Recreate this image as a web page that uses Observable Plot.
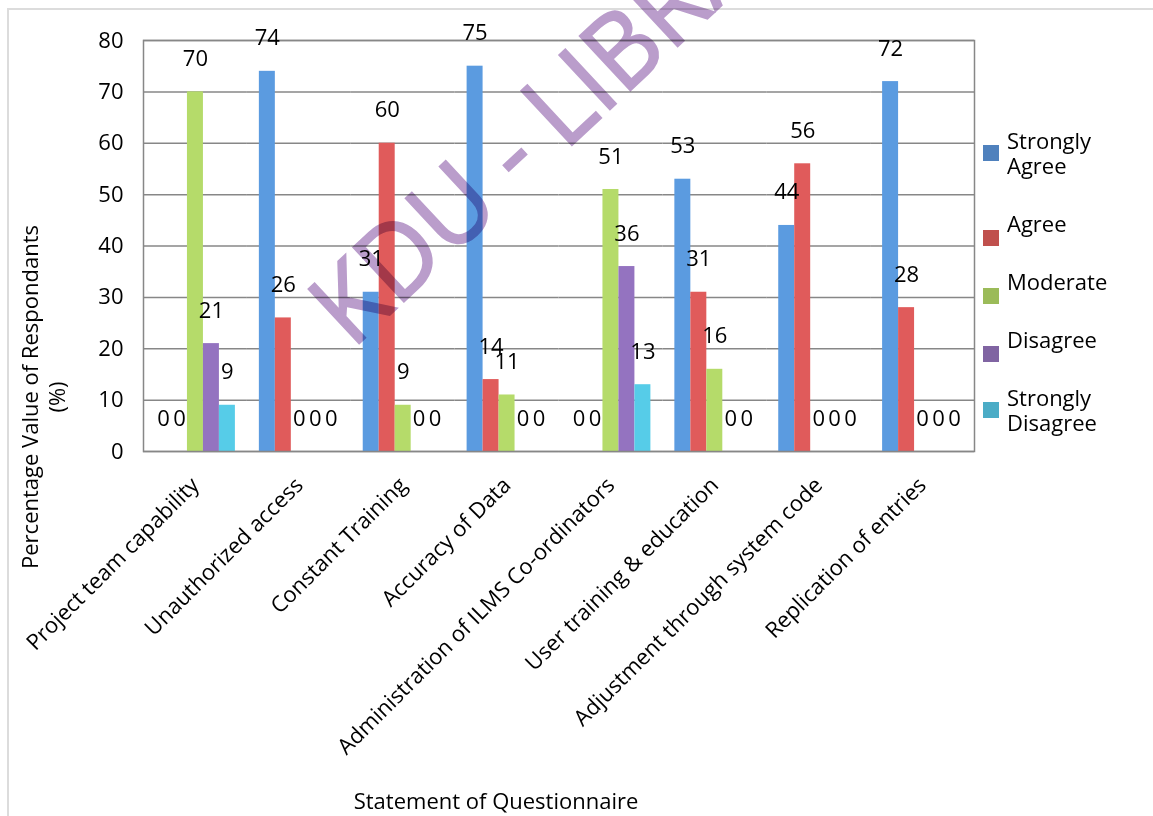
<!DOCTYPE html>
<html>
<head>
<meta charset="utf-8">
<script src="https://cdn.jsdelivr.net/npm/d3@7"></script>
<script src="https://cdn.jsdelivr.net/npm/@observablehq/plot@0.6"></script>
<style>
  html, body { margin: 0; padding: 0; background: #fff; }
  #wrap { position: relative; width: 1153px; height: 816px; overflow: hidden; font-family: "Open Sans", sans-serif; color: #000; }
  #border { position: absolute; left: 7px; top: 8px; width: 1300px; height: 1000px; border: 2px solid #dcdcdc; box-sizing: border-box; }
  #chart { position: absolute; left: 0; top: 0; }
  #ytitle { position: absolute; left: 43px; top: 397px; transform: translate(-50%, -50%) rotate(-90deg); white-space: nowrap; text-align: center; font-size: 22px; line-height: 27px; }
  #xtitle { position: absolute; left: 496px; top: 800px; transform: translate(-50%, -50%); white-space: nowrap; font-size: 22px; }
  #legend { position: absolute; left: 983px; top: 128px; display: flex; flex-direction: column; gap: 33px; font-size: 22px; line-height: 25px; }
  .item { display: flex; align-items: center; }
  .sw { width: 16px; height: 16px; margin-right: 8px; flex: none; }
  .lab { width: 120px; }
  #wm { position: absolute; left: 0; top: 0; mix-blend-mode: multiply; pointer-events: none; overflow: hidden; }
</style>
</head>
<body>
<div id="wrap">
  <div id="border"></div>
  <div id="chart"></div>
  <div id="ytitle">Percentage Value of Respondants<br>(%)</div>
  <div id="xtitle">Statement of Questionnaire</div>
  <div id="legend"></div>
  <svg id="wm" width="1153" height="816">
    <text x="352" y="350" transform="rotate(-43 352 350)" font-family="Open Sans" font-size="104" font-weight="500"
          textLength="678" lengthAdjust="spacingAndGlyphs" fill="#BA9DCB" stroke="#BA9DCB" stroke-width="2">KDU - LIBRARY</text>
  </svg>
</div>
<script>
const categories = [
  "Project team capability",
  "Unauthorized access",
  "Constant Training",
  "Accuracy of Data",
  "Administration of ILMS Co-ordinators",
  "User training & education",
  "Adjustment through system code",
  "Replication of entries"
];
const seriesNames = ["Strongly Agree", "Agree", "Moderate", "Disagree", "Strongly Disagree"];
const stronglyAgree    = [0, 74, 31, 75, 0, 53, 44, 72];
const agree            = [0, 26, 60, 14, 0, 31, 56, 28];
const moderate         = [70, 0, 9, 11, 51, 16, 0, 0];
const disagree         = [21, 0, 0, 0, 36, 0, 0, 0];
const stronglyDisagree = [9, 0, 0, 0, 13, 0, 0, 0];
const yTicks = [0, 10, 20, 30, 40, 50, 60, 70, 80];

const barColors = ["#5B9BE0", "#E05B5B", "#B5DB6A", "#9473C0", "#56CCE8"];
const legendColors = ["#4F81BD", "#C0504D", "#9BBB59", "#8064A2", "#4BACC6"];

const seriesValues = [stronglyAgree, agree, moderate, disagree, stronglyDisagree];
const table = categories.flatMap((c, i) =>
  seriesNames.map((s, j) => ({category: c, series: s, value: seriesValues[j][i]}))
);

const plot = Plot.plot({
  width: 1153,
  height: 816,
  marginLeft: 143,
  marginRight: 179,
  marginTop: 40,
  marginBottom: 365,
  style: {fontFamily: "Open Sans", fontSize: "22px", color: "#000", background: "transparent", overflow: "visible"},
  fx: {domain: categories, padding: 0, round: false, label: null},
  x: {domain: seriesNames, paddingInner: 0, paddingOuter: 0.75, round: false, axis: null},
  y: {domain: [0, 80], label: null},
  color: {domain: seriesNames, range: barColors},
  marks: [
    Plot.gridY(yTicks, {stroke: "#878787", strokeOpacity: 1, strokeWidth: 1.5}),
    Plot.barY(table, {fx: "category", x: "series", y: "value", fill: "series"}),
    Plot.frame({stroke: "#878787", strokeWidth: 1.5, facet: "super"}),
    Plot.text(table, {fx: "category", x: "series", y: "value", text: d => String(d.value), dy: -33, fontSize: 22, fill: "#000"}),
    Plot.axisY({ticks: yTicks, tickSize: 0, tickPadding: 20, label: null, fontSize: 22, fill: "#000"}),
    Plot.axisFx({anchor: "bottom", tickRotate: -45, tickSize: 0, tickPadding: 30, label: null, fontSize: 22, fill: "#000"})
  ]
});
document.getElementById("chart").appendChild(plot);

const cs = plot.scale("color");
const legend = document.getElementById("legend");
cs.domain.forEach((name, i) => {
  const item = document.createElement("div");
  item.className = "item";
  const sw = document.createElement("div");
  sw.className = "sw";
  sw.style.background = legendColors[i];
  if (!name.includes(" ")) { sw.style.position = "relative"; sw.style.top = "14px"; }
  const lab = document.createElement("div");
  lab.className = "lab";
  lab.textContent = name;
  item.appendChild(sw);
  item.appendChild(lab);
  legend.appendChild(item);
});
</script>
</body>
</html>
